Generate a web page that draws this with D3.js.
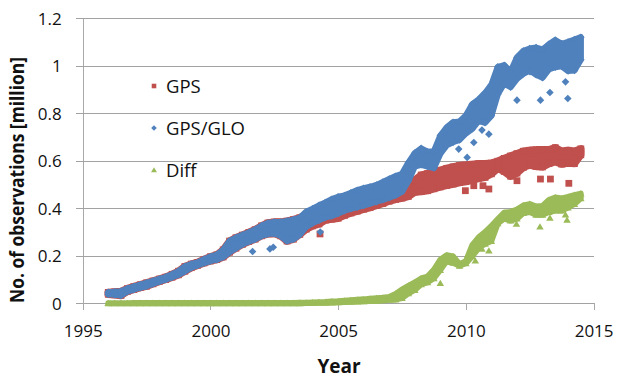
<!DOCTYPE html>
<html>
<head>
<meta charset="utf-8">
<script src="https://cdn.jsdelivr.net/npm/d3@7"></script>
<style>
  body { margin: 0; background: #fff; }
  svg { display: block; font-family: "Open Sans", "Liberation Sans", sans-serif; }
</style>
</head>
<body>
<svg id="chart" width="617" height="378"></svg>
<script>
// Quarterly sampling times (decimal year)
const years = [
  1996.00, 1996.25, 1996.50, 1996.75, 1997.00, 1997.25, 1997.50, 1997.75, 1998.00, 1998.25,
  1998.50, 1998.75, 1999.00, 1999.25, 1999.50, 1999.75, 2000.00, 2000.25, 2000.50, 2000.75,
  2001.00, 2001.25, 2001.50, 2001.75, 2002.00, 2002.25, 2002.50, 2002.75, 2003.00, 2003.25,
  2003.50, 2003.75, 2004.00, 2004.25, 2004.50, 2004.75, 2005.00, 2005.25, 2005.50, 2005.75,
  2006.00, 2006.25, 2006.50, 2006.75, 2007.00, 2007.25, 2007.50, 2007.75, 2008.00, 2008.25,
  2008.50, 2008.75, 2009.00, 2009.25, 2009.50, 2009.75, 2010.00, 2010.25, 2010.50, 2010.75,
  2011.00, 2011.25, 2011.50, 2011.75, 2012.00, 2012.25, 2012.50, 2012.75, 2013.00, 2013.25,
  2013.50, 2013.75, 2014.00, 2014.25, 2014.50
];

// GPS only: lower / upper envelope of daily counts (million)
const gpsLo = [
  0.038, 0.036, 0.033, 0.050, 0.058, 0.066, 0.072, 0.082, 0.092, 0.100,
  0.110, 0.120, 0.135, 0.150, 0.160, 0.170, 0.178, 0.184, 0.195, 0.215,
  0.232, 0.248, 0.260, 0.270, 0.284, 0.292, 0.294, 0.284, 0.262, 0.270,
  0.290, 0.312, 0.326, 0.334, 0.350, 0.354, 0.358, 0.370, 0.380, 0.388,
  0.396, 0.403, 0.412, 0.420, 0.430, 0.437, 0.443, 0.450, 0.468, 0.470,
  0.474, 0.482, 0.490, 0.496, 0.502, 0.508, 0.512, 0.518, 0.526, 0.530,
  0.545, 0.568, 0.555, 0.535, 0.548, 0.572, 0.582, 0.576, 0.574, 0.588,
  0.596, 0.586, 0.590, 0.588, 0.625
];
const gpsHi = [
  0.046, 0.048, 0.050, 0.062, 0.070, 0.078, 0.086, 0.094, 0.102, 0.110,
  0.122, 0.135, 0.155, 0.165, 0.172, 0.185, 0.196, 0.204, 0.225, 0.262,
  0.276, 0.287, 0.298, 0.310, 0.326, 0.338, 0.342, 0.342, 0.346, 0.352,
  0.360, 0.375, 0.390, 0.402, 0.414, 0.426, 0.434, 0.440, 0.450, 0.460,
  0.468, 0.472, 0.480, 0.490, 0.498, 0.504, 0.506, 0.508, 0.518, 0.540,
  0.546, 0.552, 0.560, 0.568, 0.574, 0.580, 0.582, 0.585, 0.588, 0.588,
  0.590, 0.598, 0.610, 0.620, 0.630, 0.640, 0.644, 0.646, 0.646, 0.646,
  0.655, 0.640, 0.644, 0.640, 0.650
];

// GPS + GLONASS
const gloLo = [
  0.038, 0.036, 0.033, 0.050, 0.058, 0.066, 0.072, 0.082, 0.092, 0.100,
  0.110, 0.120, 0.135, 0.150, 0.160, 0.170, 0.178, 0.184, 0.195, 0.215,
  0.232, 0.248, 0.260, 0.270, 0.284, 0.292, 0.294, 0.284, 0.262, 0.270,
  0.290, 0.322, 0.338, 0.350, 0.362, 0.368, 0.378, 0.390, 0.398, 0.405,
  0.412, 0.420, 0.428, 0.436, 0.445, 0.455, 0.470, 0.515, 0.576, 0.583,
  0.576, 0.570, 0.630, 0.665, 0.678, 0.688, 0.715, 0.735, 0.768, 0.760,
  0.790, 0.880, 0.925, 0.910, 0.945, 0.966, 0.980, 0.962, 0.950, 0.985,
  0.994, 0.998, 0.978, 0.980, 1.025
];
const gloHi = [
  0.046, 0.048, 0.050, 0.062, 0.070, 0.078, 0.086, 0.094, 0.102, 0.110,
  0.122, 0.135, 0.155, 0.165, 0.172, 0.185, 0.196, 0.204, 0.225, 0.262,
  0.276, 0.287, 0.298, 0.310, 0.326, 0.338, 0.342, 0.342, 0.346, 0.352,
  0.360, 0.385, 0.398, 0.412, 0.424, 0.438, 0.448, 0.454, 0.465, 0.476,
  0.484, 0.490, 0.498, 0.510, 0.523, 0.535, 0.545, 0.592, 0.632, 0.652,
  0.638, 0.640, 0.706, 0.740, 0.762, 0.765, 0.790, 0.838, 0.858, 0.885,
  0.920, 0.995, 1.002, 0.975, 1.035, 1.062, 1.072, 1.076, 1.068, 1.090,
  1.108, 1.092, 1.100, 1.110, 1.120
];

// Difference (GLONASS contribution)
const diffLo = [
  0.000, 0.000, 0.000, 0.000, 0.000, 0.000, 0.000, 0.000, 0.000, 0.000,
  0.000, 0.000, 0.000, 0.000, 0.000, 0.000, 0.000, 0.000, 0.000, 0.000,
  0.000, 0.000, 0.000, 0.000, 0.000, 0.000, 0.000, 0.000, 0.000, 0.000,
  0.000, 0.001, 0.001, 0.002, 0.002, 0.003, 0.004, 0.005, 0.006, 0.007,
  0.008, 0.009, 0.010, 0.012, 0.014, 0.016, 0.022, 0.042, 0.056, 0.080,
  0.088, 0.105, 0.140, 0.179, 0.170, 0.158, 0.168, 0.198, 0.232, 0.250,
  0.262, 0.336, 0.356, 0.348, 0.356, 0.380, 0.384, 0.372, 0.372, 0.384,
  0.390, 0.390, 0.403, 0.418, 0.442
];
const diffHi = [
  0.001, 0.001, 0.001, 0.001, 0.002, 0.002, 0.002, 0.002, 0.002, 0.002,
  0.002, 0.002, 0.002, 0.002, 0.002, 0.002, 0.002, 0.002, 0.002, 0.002,
  0.002, 0.002, 0.002, 0.002, 0.002, 0.002, 0.002, 0.002, 0.002, 0.002,
  0.003, 0.003, 0.004, 0.005, 0.006, 0.008, 0.009, 0.011, 0.013, 0.015,
  0.017, 0.020, 0.022, 0.024, 0.027, 0.040, 0.058, 0.074, 0.088, 0.105,
  0.113, 0.142, 0.184, 0.203, 0.198, 0.165, 0.178, 0.245, 0.278, 0.300,
  0.326, 0.355, 0.382, 0.385, 0.395, 0.412, 0.418, 0.408, 0.410, 0.435,
  0.446, 0.442, 0.448, 0.456, 0.462
];

// Isolated days well away from the bulk of each series
const gpsOutYears  = [2004.29, 2009.98, 2010.31, 2010.67, 2010.90, 2012.00, 2012.92, 2013.31, 2014.03];
const gpsOutValues = [0.292, 0.474, 0.495, 0.495, 0.481, 0.516, 0.523, 0.523, 0.505];
const gloOutYears  = [2001.65, 2002.33, 2002.46, 2004.30, 2009.72, 2010.05, 2010.31, 2010.63, 2010.90, 2012.00, 2012.51, 2012.92, 2013.29, 2013.90, 2013.99];
const gloOutValues = [0.218, 0.229, 0.236, 0.300, 0.649, 0.614, 0.677, 0.729, 0.712, 0.855, 0.975, 0.855, 0.887, 0.932, 0.862];
const diffOutYears  = [2009.00, 2010.37, 2010.63, 2010.90, 2011.98, 2012.90, 2013.29, 2013.90, 2013.96];
const diffOutValues = [0.085, 0.180, 0.229, 0.222, 0.334, 0.323, 0.360, 0.373, 0.351];

const seriesNames = ["GPS", "GPS/GLO", "Diff"];
const seriesColors = ["#C0504D", "#4F81BD", "#9BBB59"];
const xTicks = [1995, 2000, 2005, 2010, 2015];
const yTicks = [0, 0.2, 0.4, 0.6, 0.8, 1, 1.2];

const svg = d3.select("#chart");
const x = d3.scaleLinear().domain([1995, 2015]).range([82.7, 593.6]);
const y = d3.scaleLinear().domain([0, 1.2]).range([303.3, 18.2]);
const plotW = x.range()[1] - x.range()[0];

// marker shapes
const shapes = {
  square: s => `M${-s},${-s}h${2*s}v${2*s}h${-2*s}Z`,
  diamond: s => `M0,${-s}L${s},0L0,${s}L${-s},0Z`,
  triangle: s => `M0,${-s}L${s*1.1},${s*0.85}L${-s*1.1},${s*0.85}Z`
};

// horizontal gridlines + y axis
const yAxis = svg.append("g")
  .attr("transform", `translate(${x.range()[0]},0)`)
  .call(d3.axisLeft(y).tickValues(yTicks).tickFormat(d3.format("~g"))
    .tickSizeInner(-plotW).tickSizeOuter(0));
yAxis.select(".domain").attr("stroke", "#a9a9a9").attr("shape-rendering", "crispEdges");
yAxis.selectAll(".tick line").attr("x1", -7).attr("stroke", "#a2a2a2").attr("shape-rendering", "crispEdges");
yAxis.selectAll(".tick text")
  .attr("x", -21).attr("dy", "0.36em")
  .attr("font-size", 17).attr("fill", "#111")
  .attr("font-family", "'Open Sans', sans-serif");

// x axis
const xAxis = svg.append("g")
  .attr("transform", `translate(0,${y(0)})`)
  .call(d3.axisBottom(x).tickValues(xTicks).tickFormat(d3.format("d"))
    .tickSizeInner(7).tickSizeOuter(0));
xAxis.select(".domain").attr("stroke", "#a2a2a2").attr("shape-rendering", "crispEdges");
xAxis.selectAll(".tick line").attr("stroke", "#a9a9a9").attr("shape-rendering", "crispEdges");
xAxis.selectAll(".tick text")
  .attr("y", 22).attr("font-size", 17).attr("fill", "#111")
  .attr("font-family", "'Open Sans', sans-serif");

// data layers
const plot = svg.append("g");
const area = d3.area().x(d => x(d.t)).y0(d => y(d.lo)).y1(d => y(d.hi));

function drawSeries(lo, hi, outYears, outValues, color, shape, size, stroke) {
  const rows = years.map((t, i) => ({ t, lo: lo[i], hi: hi[i] }));
  const g = plot.append("g");
  g.append("path")
    .datum(rows)
    .attr("d", area)
    .attr("fill", color)
    .attr("stroke", color)
    .attr("stroke-width", stroke)
    .attr("stroke-linejoin", "round");
  const pts = [];
  rows.forEach(r => { pts.push([r.t, r.lo]); if (r.hi !== r.lo) pts.push([r.t, r.hi]); });
  outYears.forEach((t, i) => pts.push([t, outValues[i]]));
  g.selectAll("path.m")
    .data(pts)
    .join("path")
    .attr("class", "m")
    .attr("transform", d => `translate(${x(d[0])},${y(d[1])})`)
    .attr("d", shapes[shape](size))
    .attr("fill", color);
}

drawSeries(gpsLo, gpsHi, gpsOutYears, gpsOutValues, seriesColors[0], "square", 3.4, 7.4);
drawSeries(gloLo, gloHi, gloOutYears, gloOutValues, seriesColors[1], "diamond", 3.8, 6.2);
drawSeries(diffLo, diffHi, diffOutYears, diffOutValues, seriesColors[2], "triangle", 3.4, 5.8);

// legend
const legendShapes = ["square", "diamond", "triangle"];
const legendSizes = [2.3, 2.8, 2.7];
const legend = svg.append("g");
seriesNames.forEach((name, i) => {
  const ly = 86 + i * 42;
  legend.append("path")
    .attr("transform", `translate(154,${ly})`)
    .attr("d", shapes[legendShapes[i]](legendSizes[i]))
    .attr("fill", seriesColors[i]);
  legend.append("text")
    .attr("x", 166).attr("y", ly).attr("dy", "0.36em")
    .attr("font-size", 18.5).attr("fill", "#111")
    .text(name);
});

// axis titles
svg.append("text")
  .attr("x", 339).attr("y", 373)
  .attr("text-anchor", "middle")
  .attr("font-size", 19).attr("font-weight", "bold").attr("fill", "#111")
  .text("Year");

svg.append("text")
  .attr("transform", "translate(24,180) rotate(-90)")
  .attr("text-anchor", "middle")
  .attr("font-size", 19).attr("font-weight", "bold").attr("fill", "#111")
  .attr("textLength", 246).attr("lengthAdjust", "spacingAndGlyphs")
  .text("No. of observations [million]");
</script>
</body>
</html>
